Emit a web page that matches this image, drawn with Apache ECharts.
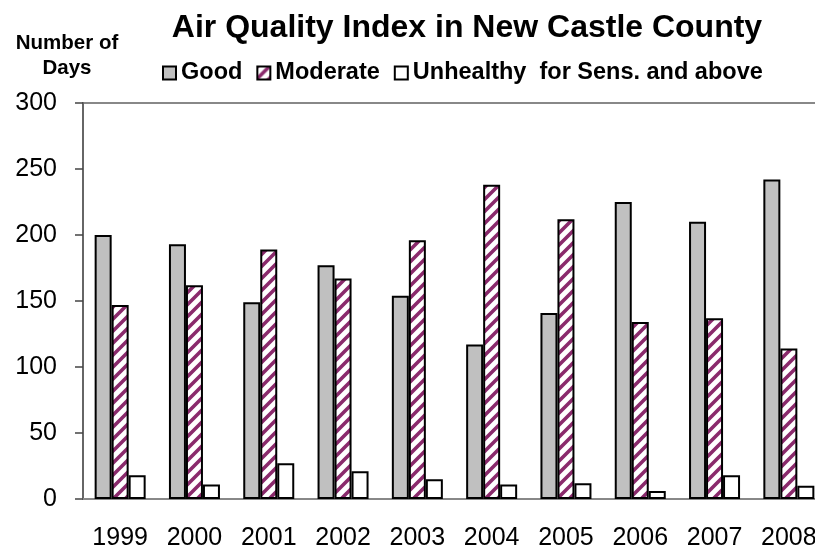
<!DOCTYPE html>
<html>
<head>
<meta charset="utf-8">
<script src="https://cdn.jsdelivr.net/npm/echarts@6/dist/echarts.min.js"></script>
<style>
  html, body { margin: 0; padding: 0; background: #fff; }
  #chart { width: 815px; height: 552px; }
</style>
</head>
<body>
<div id="chart"></div>
<script>
// data
var years = ['1999', '2000', '2001', '2002', '2003', '2004', '2005', '2006', '2007', '2008'];
var good = [200, 193, 149, 177, 154, 117, 141, 225, 210, 242];
var moderate = [147, 162, 189, 167, 196, 238, 212, 134, 137, 114];
var unhealthy = [18, 11, 27, 21, 15, 11, 12, 6, 18, 10];
var yTicks = [0, 50, 100, 150, 200, 250, 300];

// diagonal purple stripes for "Moderate"
function stripes() {
  var s = 12;
  var c = document.createElement('canvas');
  c.width = s; c.height = s;
  var ctx = c.getContext('2d');
  ctx.fillStyle = '#fff';
  ctx.fillRect(0, 0, s, s);
  ctx.strokeStyle = '#8a2a6c';
  ctx.lineWidth = 3.6;
  ctx.beginPath();
  ctx.moveTo(-2, s + 2); ctx.lineTo(s + 2, -2);
  ctx.moveTo(-2 - s / 2, s / 2 + 2); ctx.lineTo(s / 2 + 2, -2 - s / 2);
  ctx.moveTo(s / 2 - 2, s * 1.5 + 2); ctx.lineTo(s * 1.5 + 2, s / 2 - 2);
  ctx.stroke();
  return c;
}

var font = '"Liberation Sans", Arial, sans-serif';
var chart = echarts.init(document.getElementById('chart'));

var border = { borderColor: '#000', borderWidth: 2 };

chart.setOption({
  animation: false,
  textStyle: { fontFamily: font },
  title: [{
    text: 'Air Quality Index in New Castle County',
    left: 462, top: 7, textAlign: 'center',
    textStyle: { fontFamily: font, fontSize: 32, fontWeight: 'bold', color: '#000' }
  }, {
    text: 'Number of\nDays',
    left: 62, top: 26, textAlign: 'center',
    textStyle: { fontFamily: font, fontSize: 20.5, fontWeight: 'bold', color: '#000', lineHeight: 25, align: 'center' }
  }],
  legend: {
    left: 157, top: 56,
    itemWidth: 13, itemHeight: 13, itemGap: 14,
    icon: 'rect',
    textStyle: { fontFamily: font, fontSize: 23.5, fontWeight: 'bold', color: '#000' },
    data: ['Good', 'Moderate', 'Unhealthy  for Sens. and above']
  },
  // plot runs past the right edge of the picture, as in the reference
  grid: {
    left: 83, width: 743, top: 103, bottom: 53,
    outerBoundsMode: 'none', containLabel: false,
    show: true, borderColor: '#888', borderWidth: 2
  },
  xAxis: {
    type: 'category',
    data: years,
    axisLine: { lineStyle: { color: '#888', width: 2 } },
    axisTick: { length: 7, lineStyle: { color: '#777', width: 1.5 } },
    axisLabel: { fontFamily: font, fontSize: 25, color: '#000', margin: 27, hideOverlap: false }
  },
  yAxis: {
    type: 'value',
    min: yTicks[0], max: yTicks[yTicks.length - 1], interval: 50,
    axisLine: { show: true, lineStyle: { color: '#666', width: 2 } },
    axisTick: { show: true, length: 8, lineStyle: { color: '#444', width: 1.5 } },
    axisLabel: { fontFamily: font, fontSize: 25, color: '#000', margin: 26 },
    splitLine: { show: false }
  },
  series: [{
    name: 'Good', type: 'bar', data: good,
    barWidth: 17, barGap: '0%',
    itemStyle: Object.assign({ color: '#c0c0c0' }, border)
  }, {
    name: 'Moderate', type: 'bar', data: moderate,
    barWidth: 17, barGap: '0%',
    itemStyle: Object.assign({ color: { image: stripes(), repeat: 'repeat' } }, border)
  }, {
    name: 'Unhealthy  for Sens. and above', type: 'bar', data: unhealthy,
    barWidth: 17, barGap: '0%',
    itemStyle: Object.assign({ color: '#fff' }, border)
  }]
});
</script>
</body>
</html>
